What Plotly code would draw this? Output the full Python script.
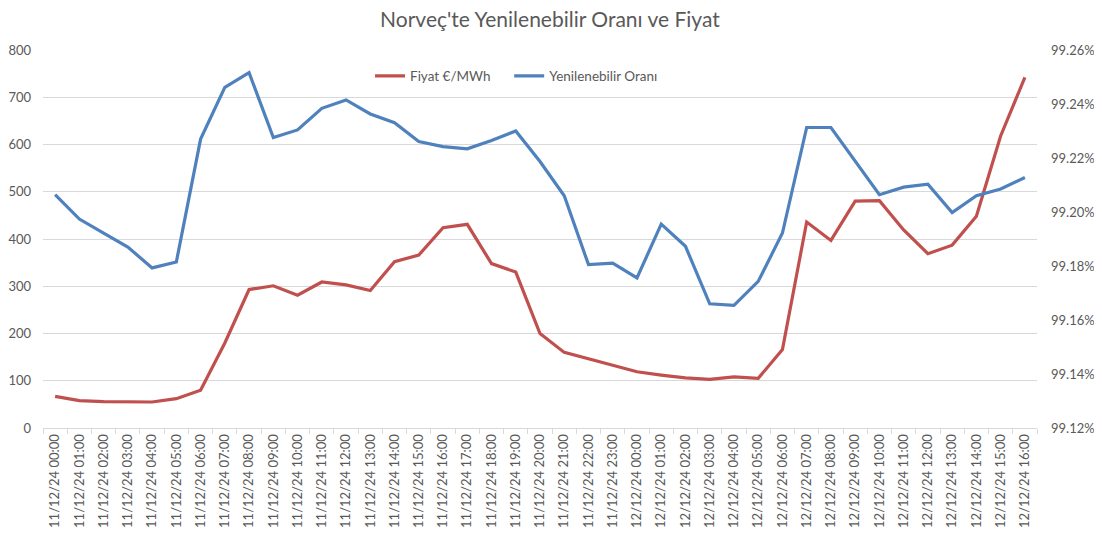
import plotly.graph_objects as go

categories = (
    [f"11/12/24 {h:02d}:00" for h in range(24)]
    + [f"12/12/24 {h:02d}:00" for h in range(17)]
)

price = [67, 58, 56, 55, 55, 62, 80, 180, 293, 301, 281, 309, 303, 291, 352, 366,
         424, 431, 348, 330, 200, 160, 146, 132, 119, 112, 106, 103, 108, 105, 166,
         436, 397, 480, 481, 419, 369, 387, 448, 618, 742]

renewable = [99.2064, 99.1974, 99.1922, 99.1870, 99.1793, 99.1815, 99.2270, 99.2462,
             99.2516, 99.2276, 99.2304, 99.2384, 99.2415, 99.2363, 99.2331, 99.2261,
             99.2242, 99.2234, 99.2265, 99.2300, 99.2187, 99.2060, 99.1805, 99.1811,
             99.1756, 99.1955, 99.1873, 99.1660, 99.1654, 99.1743, 99.1922, 99.2313,
             99.2313, 99.2187, 99.2064, 99.2092, 99.2103, 99.1998, 99.2060, 99.2085,
             99.2128]

left_ticks = list(range(0, 801, 100))
right_ticks = [99.12, 99.14, 99.16, 99.18, 99.20, 99.22, 99.24, 99.26]
right_labels = [f"{v:.2f}%" for v in right_ticks]

FONT = "Lato, Open Sans, sans-serif"
GRAY = "#595959"

# page body has an 8px default margin; the figure is sized to fit the window
W, H = 1094, 530

fig = go.Figure()
fig.add_trace(go.Scatter(x=categories, y=price, name="Fiyat €/MWh", mode="lines",
                         line=dict(color="#C0504D", width=3.2), yaxis="y",
                         legend="legend"))
fig.add_trace(go.Scatter(x=categories, y=renewable, name="Yenilenebilir Oranı", mode="lines",
                         line=dict(color="#4F81BD", width=3.2), yaxis="y2",
                         legend="legend2"))

legend_common = dict(orientation="h", xanchor="left", y=0.931, yanchor="middle",
                     bgcolor="rgba(0,0,0,0)", font=dict(size=13.5, color=GRAY), itemwidth=30)

fig.update_layout(
    width=W, height=H,
    margin=dict(l=35, r=65, t=42, b=110, autoexpand=False),
    paper_bgcolor="white", plot_bgcolor="white",
    font=dict(family=FONT, color=GRAY, size=13),
    title=dict(text="Norveç'te Yenilenebilir Oranı ve Fiyat", x=0.4954, xanchor="center",
               xref="container", yref="container", y=1 - 4 / H, yanchor="top",
               font=dict(size=21, color=GRAY, family=FONT)),
    showlegend=True,
    legend=dict(x=0.329, **legend_common),
    legend2=dict(x=0.469, **legend_common),
    xaxis=dict(type="category", range=[-0.5, len(categories) - 0.5], tickangle=-90,
               showgrid=False, showline=True, linecolor="#d9d9d9", linewidth=1,
               ticks="outside", tickson="boundaries", ticklen=5, tickcolor="#d9d9d9",
               tickfont=dict(size=13, color=GRAY), automargin=False),
    yaxis=dict(range=[0, 800], tickvals=left_ticks, showgrid=True, gridcolor="#d9d9d9",
               gridwidth=1, zeroline=False, showline=False, automargin=False,
               tickfont=dict(size=13, color=GRAY), ticklabelstandoff=11),
    yaxis2=dict(range=[99.12, 99.26], tickvals=right_ticks, ticktext=right_labels,
                overlaying="y", side="right", automargin=False,
                showgrid=False, zeroline=False, showline=False,
                tickfont=dict(size=13, color=GRAY), ticklabelstandoff=13),
)

fig.write_html("out.html")
